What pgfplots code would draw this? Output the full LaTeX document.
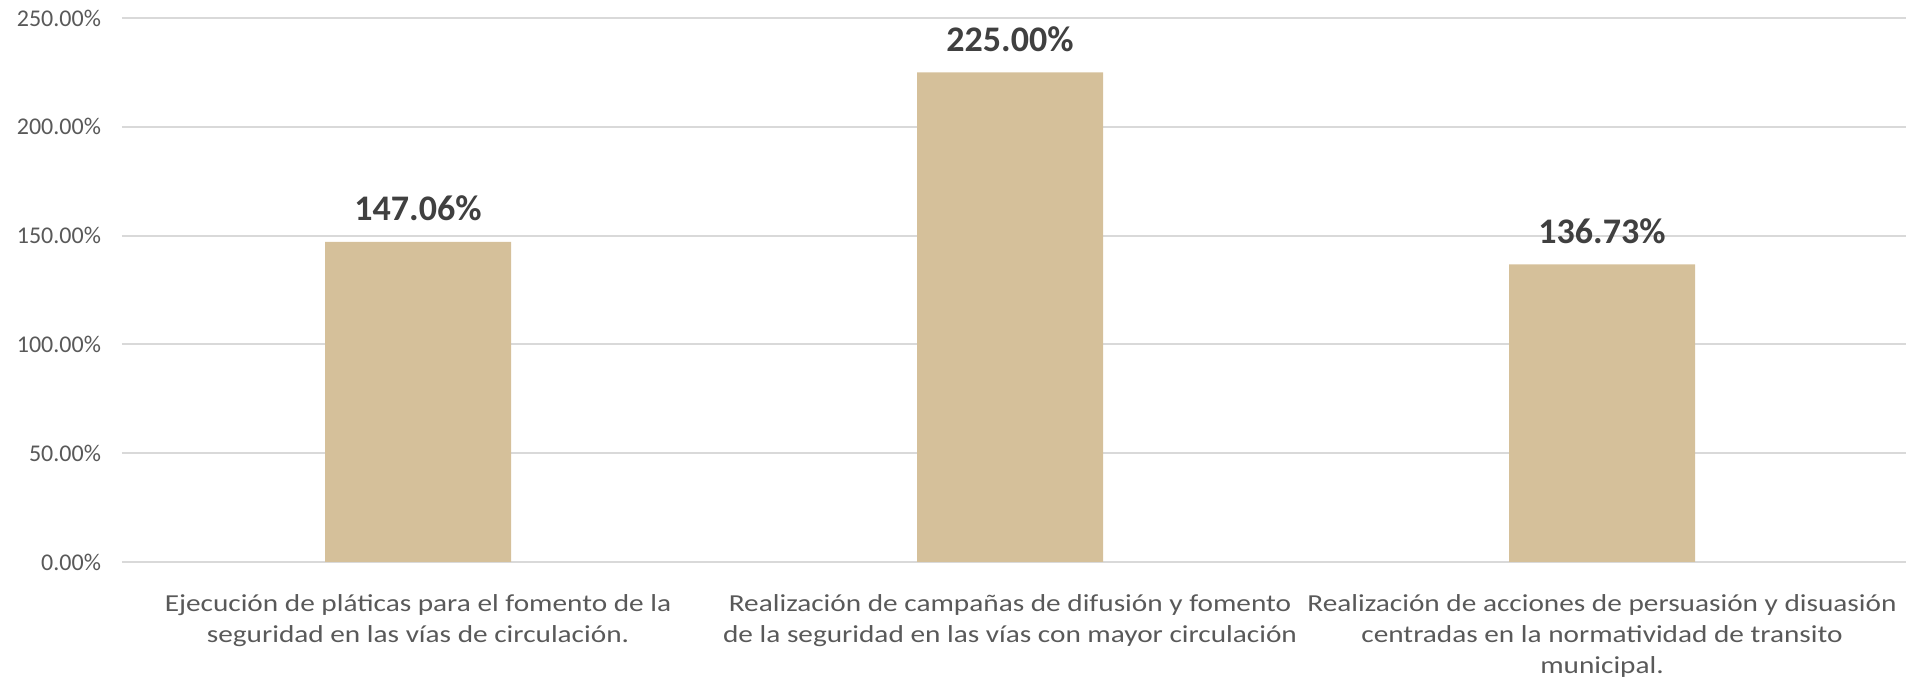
\documentclass[border=0pt]{standalone}
\usepackage{pgfplots}
\pgfplotsset{compat=1.18}
\usepackage{fontspec}
\setmainfont{Carlito}
\newfontfamily\widefont{Carlito}[FakeStretch=1.2]
\definecolor{barc}{HTML}{D5C09A}
\definecolor{gridc}{HTML}{D9D9D9}
\definecolor{tickc}{HTML}{595959}
\definecolor{labc}{HTML}{404040}

\begin{document}
\begin{tikzpicture}
\begin{axis}[
  name=ax,
  scale only axis,
  width=892pt, height=272pt,
  ybar, bar width=93pt,
  xmin=-0.5, xmax=2.5135, ymin=0, ymax=250,
  enlargelimits=false,
  xtick={0,1,2},
  xticklabels={
    {Ejecución de pláticas para el fomento de la\\seguridad en las vías de circulación.},
    {Realización de campañas de difusión y fomento\\de la seguridad en las vías con mayor circulación},
    {Realización de acciones de persuasión y disuasión\\centradas en la normatividad de transito\\municipal.}},
  x tick label style={font=\widefont\fontsize{12.2}{15.6}\selectfont, text=tickc, align=center, yshift=-12.5pt},
  ytick={0,50,...,250},
  yticklabel={\pgfmathprintnumber[fixed,fixed zerofill,precision=2]{\tick}\%},
  /pgf/number format/assume math mode=true,
  y tick label style={font=\fontsize{12}{14}\selectfont, text=tickc, xshift=-7pt},
  major tick length=0pt,
  axis line style={draw=none},
  ymajorgrids, grid style={gridc, line width=1pt},
  nodes near coords={\pgfmathprintnumber[fixed,fixed zerofill,precision=2]{\pgfplotspointmeta}\%},
  nodes near coords style={font=\fontsize{18}{20}\selectfont\bfseries, text=labc, anchor=base, inner sep=0pt, yshift=10.5pt},
]
\addplot[fill=barc, draw=none] coordinates {(0,147.06) (1,225.00) (2,136.73)};
\end{axis}
\pgfresetboundingbox
\path ([xshift=-61pt,yshift=-60.5pt]ax.south west) rectangle ([yshift=9pt]ax.north east);
\end{tikzpicture}
\end{document}
